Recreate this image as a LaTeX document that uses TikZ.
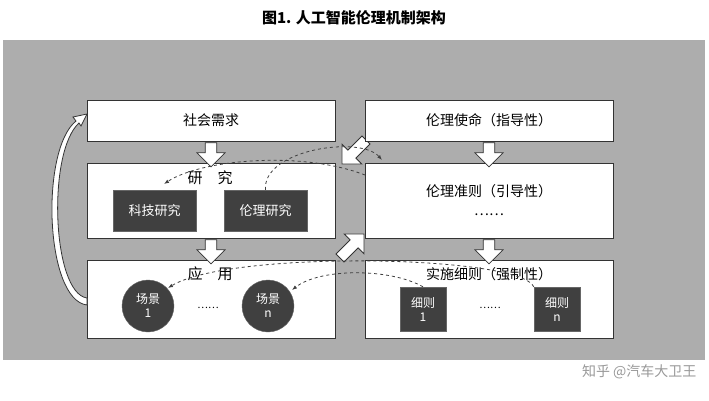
\documentclass[tikz,border=0pt]{standalone}
\usepackage{fontspec}
\setmainfont{Noto Sans CJK SC}
\usetikzlibrary{shapes.arrows,arrows.meta}
\begin{document}
\begin{tikzpicture}[x=1pt,y=-1pt,
  wbox/.style={draw=black!80,fill=white,line width=1pt,minimum width=248pt,font=\fontsize{14}{17}\selectfont},
  dbox/.style={draw=black!60,fill=black!75,text=white!85,minimum width=83pt,minimum height=41pt,font=\fontsize{13}{15}\selectfont},
  dcirc/.style={circle,draw=black!60,fill=black!75,text=white!85,minimum size=52pt,align=center,inner sep=0pt,font=\fontsize{12}{14}\selectfont},
  drect/.style={draw=black!60,fill=black!75,text=white!85,minimum width=46pt,minimum height=44pt,align=center,inner sep=0pt,font=\fontsize{12}{14}\selectfont},
  barrow/.style={single arrow,draw=black!80,fill=white,line width=0.8pt,minimum height=24pt,minimum width=28pt,single arrow head extend=5pt,inner sep=3pt},
  dcurve/.style={dashed,black!75,line width=0.8pt,-{Latex[length=5pt]}}]
\useasboundingbox (0,0) rectangle (709,400);
\fill[white] (0,0) rectangle (709,400);
\node[font=\bfseries\fontsize{15}{17}\selectfont] (title) at (354,18) {图1. 人工智能伦理机制架构};
\fill[black!32] (3,40) rectangle (705,360);
\node[barrow,rotate=-135,minimum height=34pt] (a5) at (356,150) {};
\node[barrow,rotate=45,minimum height=34pt] (a6) at (350,248) {};
\node[wbox,minimum height=41pt] (sh) at (211,120.5) {社会需求};
\node[wbox,minimum height=41pt] (sm) at (489,120.5) {伦理使命（指导性）};
\node[wbox,minimum height=75pt] (yj) at (211,200.5) {};
\node[wbox,minimum height=75pt,align=center] (zz) at (489,200.5) {伦理准则（引导性）\\[2pt]……};
\node[wbox,minimum height=78pt] (yy) at (211,299) {};
\node[wbox,minimum height=78pt] (ss) at (489,299) {};
\node[font=\fontsize{15}{17}\selectfont] (yjt) at (210,178) {研\quad 究};
\node[font=\fontsize{15}{17}\selectfont] (yyt) at (210,274) {应\quad 用};
\node[font=\fontsize{14}{17}\selectfont] (sst) at (489,274) {实施细则（强制性）};
\node[dbox] (kj) at (154.5,210.5) {科技研究};
\node[dbox] (ll) at (265.5,210.5) {伦理研究};
\node[dcirc] (c1) at (148,306) {场景\\1};
\node[dcirc] (cn) at (268,306) {场景\\n};
\node (d1) at (208,308) {……};
\node[drect] (x1) at (423,309) {细则\\1};
\node[drect] (xn) at (557,309) {细则\\n};
\node (d2) at (490,308) {……};
\node[barrow,rotate=-90] (a1) at (211,152) {};
\node[barrow,rotate=-90] (a2) at (211,249) {};
\node[barrow,rotate=-90] (a3) at (489,152) {};
\node[barrow,rotate=-90] (a4) at (489,249) {};
\draw[draw=black!80,fill=white,line width=0.8pt] (87,305) .. controls (45,300) and (40,150) .. (76,121) -- (73,117) -- (87,114) -- (81,126) -- (79,123) .. controls (47,152) and (52,293) .. (87,298) -- cycle;
\coordinate (e1) at (382,160);
\coordinate (s2) at (365,175);
\coordinate (e2) at (164,184);
\coordinate (e3) at (292,290);
\coordinate (e4) at (168,288);
\draw[dcurve] (ll.north) .. controls (262,150) and (360,135) .. (e1);
\draw[dcurve] (s2) .. controls (300,150) and (200,160) .. (e2);
\draw[dcurve] (x1.north) .. controls (390,268) and (320,268) .. (e3);
\draw[dcurve] (xn.north west) .. controls (520,255) and (230,250) .. (e4);
\node[text=black!40,font=\fontsize{14}{16}\selectfont,anchor=east] (wm) at (700,372) {知乎 @汽车大卫王};
\end{tikzpicture}
\end{document}
